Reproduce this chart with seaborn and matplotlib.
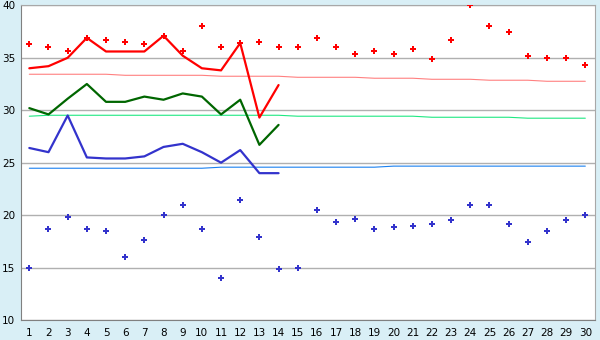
import matplotlib
matplotlib.use('agg')
import matplotlib.pyplot as plt
import seaborn as sns
import numpy as np
import pandas as pd

# days on the x axis
DAYS = list(range(1, 31))

# scatter points (upper / lower)
HIGH_PTS = [36.3, 36.0, 35.6, 36.9, 36.7, 36.5, 36.3, 37.1, 35.6, 38.0,
            36.0, 36.4, 36.5, 36.0, 36.0, 36.9, 36.0, 35.4, 35.6, 35.4,
            35.8, 34.9, 36.7, 40.0, 38.0, 37.5, 35.2, 35.0, 35.0, 34.3]
LOW_PTS = [15.0, 18.7, 19.8, 18.7, 18.5, 16.0, 17.6, 20.0, 21.0, 18.7,
           14.0, 21.4, 17.9, 14.9, 15.0, 20.5, 19.3, 19.6, 18.7, 18.9,
           19.0, 19.2, 19.5, 21.0, 21.0, 19.2, 17.4, 18.5, 19.5, 20.0]

# thick lines, first 14 days only
RED_LINE = [34.0, 34.2, 35.0, 36.9, 35.6, 35.6, 35.6, 37.1, 35.2, 34.0,
            33.8, 36.4, 29.3, 32.4]
GREEN_LINE = [30.2, 29.6, 31.1, 32.5, 30.8, 30.8, 31.3, 31.0, 31.6, 31.3,
              29.6, 31.0, 26.7, 28.6]
BLUE_LINE = [26.4, 26.0, 29.5, 25.5, 25.4, 25.4, 25.6, 26.5, 26.8, 26.0,
             25.0, 26.2, 24.0, 24.0]

# thin reference lines, all days
PINK_REF = [33.43] * 5 + [33.33] * 5 + [33.24] * 4 + [33.14] * 4 + [33.05] * 3 + \
           [32.95] * 3 + [32.86] * 3 + [32.76] * 3
MINT_REF = [29.43] + [29.52] * 13 + [29.43] * 7 + [29.33] * 5 + [29.24] * 4
SKY_REF = [24.47] * 10 + [24.57] * 9 + [24.67] * 11

BG = '#d9eff6'


def setup():
    sns.set_style('white')
    plt.rcParams['font.family'] = ['DejaVu Sans']
    plt.rcParams['font.size'] = 7.5


def line(ax, y, color, lw):
    n = len(y)
    df = pd.DataFrame({'day': DAYS[:n], 'val': y})
    sns.lineplot(data=df, x='day', y='val', color=color, linewidth=lw, ax=ax)


def points(ax, y, color):
    df = pd.DataFrame({'day': DAYS, 'val': y})
    sns.scatterplot(data=df, x='day', y='val', color=color, marker='P',
                    s=15, linewidth=0, ax=ax, zorder=4)


setup()
fig = plt.figure(figsize=(6, 3.4), dpi=100, facecolor=BG)
ax = fig.add_axes([0.0345, 0.0588, 0.957, 0.9255])
ax.set_facecolor('white')

line(ax, PINK_REF, '#ff8080', 0.8)
line(ax, MINT_REF, '#1ee882', 0.8)
line(ax, SKY_REF, '#1a80f0', 0.8)

line(ax, RED_LINE, '#ff0000', 1.6)
line(ax, GREEN_LINE, '#006600', 1.6)
line(ax, BLUE_LINE, '#3333cc', 1.6)

points(ax, HIGH_PTS, '#ff0000')
points(ax, LOW_PTS, '#3333cc')

ax.set_xlim(0.55, 30.5)
ax.set_ylim(10, 40)
ax.set_xticks(DAYS)
ax.set_yticks(range(10, 41, 5))
ax.yaxis.grid(True, color='#b0b0b0', linewidth=1)
ax.set_axisbelow(True)
ax.set_xlabel('')
ax.set_ylabel('')
for s in ax.spines.values():
    s.set_color('#a8a8a8')
ax.spines['left'].set_color('#808080')
ax.spines['bottom'].set_color('#808080')
ax.tick_params(axis='x', length=4, width=1, color='#000000', pad=2,
               labelsize=7.5, labelcolor='black')
ax.tick_params(axis='y', length=3, width=1, color='#000000', pad=1,
               labelsize=7.5, labelcolor='black')

fig.savefig('out.png', dpi=100, facecolor=BG)
